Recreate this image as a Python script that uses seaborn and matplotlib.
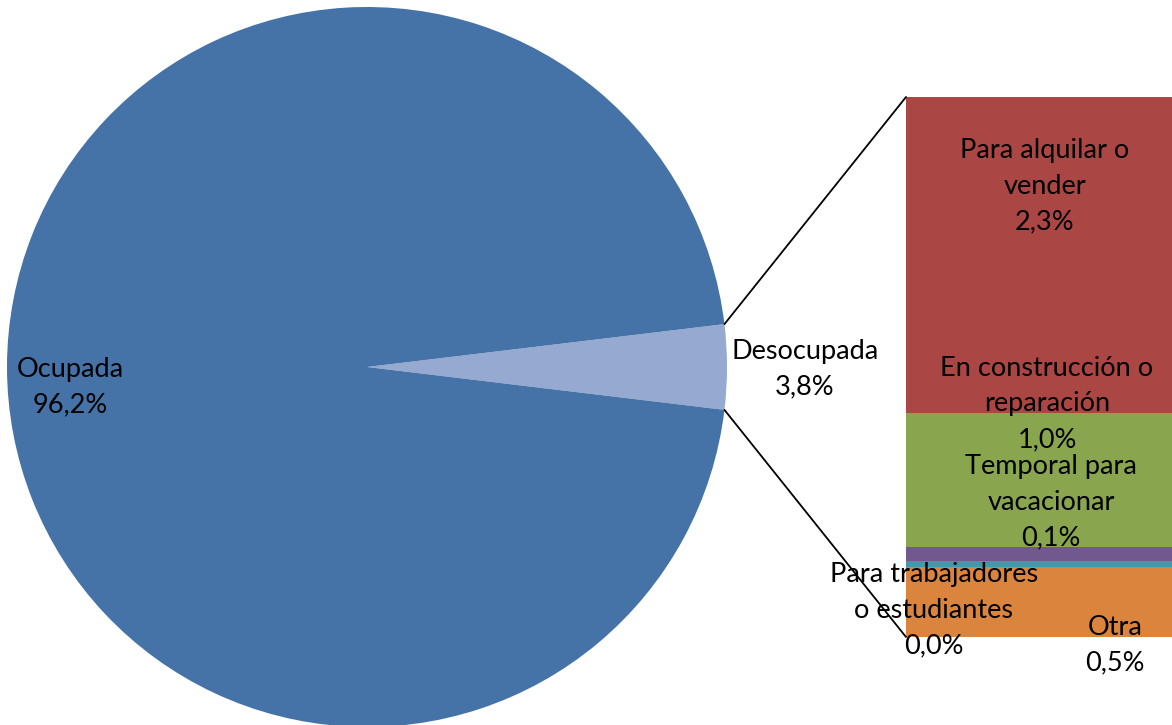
import matplotlib
matplotlib.use("Agg")
import matplotlib.pyplot as plt
from matplotlib.patches import ConnectionPatch
import numpy as np
import seaborn as sns

sns.set_style("white")
plt.rcParams["font.family"] = ["Lato", "DejaVu Sans"]

# Main pie: occupied vs unoccupied dwellings (%)
pie_labels = ["Desocupada", "Ocupada"]
pie_values = [3.8, 96.2]
pie_colors = ["#95A9D1", "#4572A7"]

# Breakdown of unoccupied dwellings (%), bottom to top of the stacked bar
sub_labels = ["Otra", "Para trabajadores\no estudiantes", "Temporal para\nvacacionar",
              "En construcción o\nreparación", "Para alquilar o\nvender"]
sub_values = [0.5, 0.04, 0.10, 0.96, 2.26]
sub_colors = ["#DB843D", "#4198AF", "#71588F", "#89A54E", "#AA4643"]

W, H = 1172, 725
fig = plt.figure(figsize=(W / 100, H / 100), dpi=100)


def px_axes(x0, y0, x1, y1):
    # axes from pixel box (top-left origin)
    return fig.add_axes([x0 / W, (H - y1) / H, (x1 - x0) / W, (y1 - y0) / H])


def pct(v):
    return f"{v:.1f}%".replace(".", ",")


# pie
ax_pie = px_axes(7, 7, 727, 727)
half = pie_values[0] / 100 * 180
ax_pie.pie(pie_values, colors=pie_colors, startangle=-half, radius=1,
           wedgeprops=dict(linewidth=0))
ax_pie.set_xlim(-1, 1)
ax_pie.set_ylim(-1, 1)
ax_pie.set_aspect("equal")
ax_pie.axis("off")

# stacked bar
ax_bar = px_axes(906, 97, 1172, 637)
bottoms = np.concatenate([[0], np.cumsum(sub_values)[:-1]])
ax_bar.bar([0] * len(sub_values), sub_values, bottom=bottoms, width=1,
           color=sub_colors, linewidth=0)
total = sum(sub_values)
ax_bar.set_xlim(-0.5, 0.5)
ax_bar.set_ylim(0, total)
ax_bar.axis("off")

# connector lines
a = np.deg2rad(half)
for yb, sgn in [(total, 1), (0, -1)]:
    con = ConnectionPatch(xyA=(np.cos(a), sgn * np.sin(a)), coordsA=ax_pie.transData,
                          xyB=(-0.5, yb), coordsB=ax_bar.transData,
                          color="black", linewidth=1.3)
    fig.add_artist(con)

# data labels (pixel positions, Excel-style placement)
fs = 19.5
ls = 1.52
label_pos_pie = [(805, 369), (70, 387)]
for lab, v, (x, y) in zip(pie_labels, pie_values, label_pos_pie):
    fig.text(x / W, 1 - y / H, f"{lab}\n{pct(v)}", ha="center", va="center",
             fontsize=fs, linespacing=ls, color="black")

label_pos_sub = [(1115, 645), (934, 610), (1051, 502), (1047, 404), (1045, 186)]
for lab, v, (x, y) in zip(sub_labels, sub_values, label_pos_sub):
    fig.text(x / W, 1 - y / H, f"{lab}\n{pct(v)}", ha="center", va="center",
             fontsize=fs, linespacing=ls, color="black")

fig.savefig("out.png", dpi=100)
